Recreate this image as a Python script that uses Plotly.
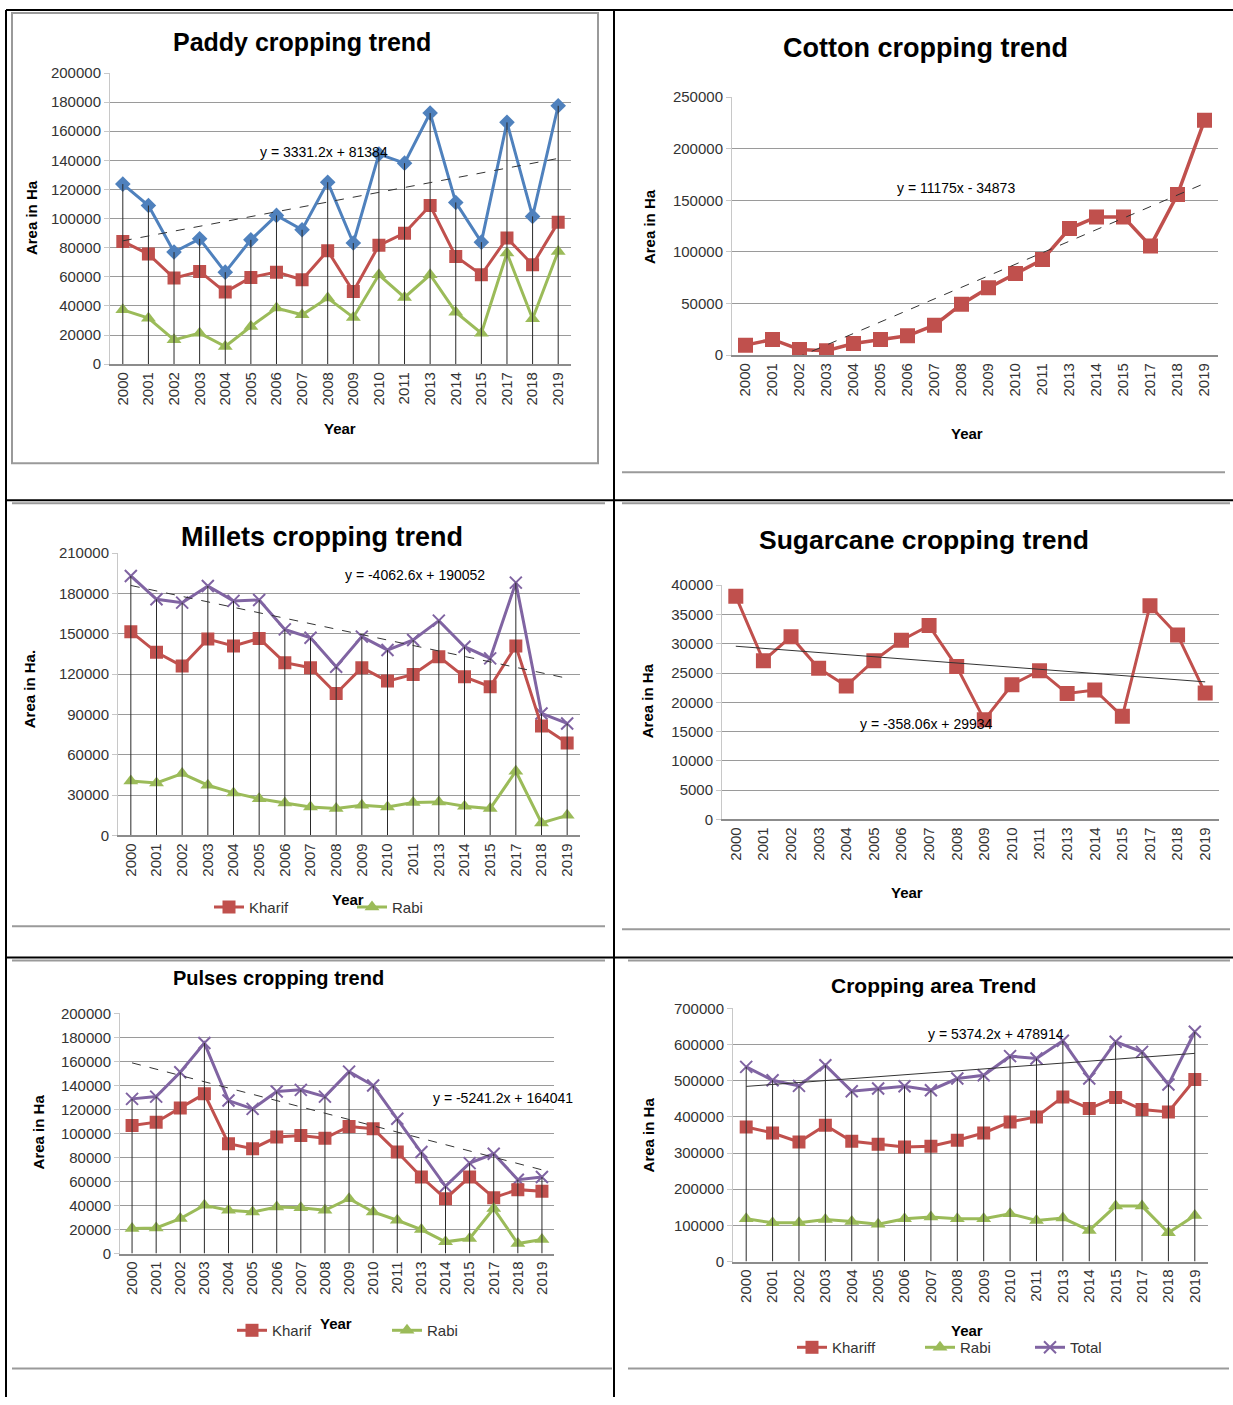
import plotly.graph_objects as go

W, H = 1233, 1405

YEARS = ['2000', '2001', '2002', '2003', '2004', '2005', '2006', '2007', '2008',
         '2009', '2010', '2011', '2013', '2014', '2015', '2017', '2018', '2019']

PADDY_TOTAL = [123700, 109000, 77000, 86100, 63200, 85400, 102200, 92300, 125000,
               83200, 144300, 138100, 172500, 111100, 83800, 166100, 101500, 177500]
PADDY_KHARIF = [84300, 75600, 59100, 63700, 49500, 59600, 63200, 58000, 77900,
                49900, 81600, 90000, 109000, 74000, 61400, 86600, 68300, 97400]
PADDY_RABI = [37300, 31600, 16700, 21300, 12100, 25900, 38500, 33900, 45400,
              32100, 61400, 45800, 61400, 35700, 21300, 76300, 31200, 77400]
PADDY_TREND = (3331.2, 81384)

COTTON = [9700, 15200, 5500, 4200, 11300, 15200, 18700, 29000, 49400,
          65200, 79000, 92600, 122600, 133900, 133900, 105800, 155500, 227400]
COTTON_TREND = (11175, -34873)

MILLETS_TOTAL = [193100, 175700, 173200, 185600, 174500, 175200, 153300, 147100, 125500,
                 147900, 137900, 145400, 159800, 140400, 131700, 188100, 90700, 83300]
MILLETS_KHARIF = [151600, 136200, 126000, 146100, 140900, 146600, 128500, 124800, 105600,
                  124800, 114800, 119800, 133000, 118000, 110600, 140900, 81300, 68800]
MILLETS_RABI = [40500, 39000, 46000, 37300, 31600, 27300, 24100, 21100, 19900,
                22400, 21100, 24400, 24900, 21600, 19900, 47700, 9200, 14900]
MILLETS_TREND = (-4062.6, 190052)

SUGARCANE = [38100, 27100, 31200, 25800, 22800, 27100, 30600, 33100, 26100,
             17000, 23000, 25400, 21500, 22100, 17600, 36500, 31500, 21600]
SUGARCANE_TREND = (-358.06, 29934)

PULSES_TOTAL = [128800, 130700, 151000, 175300, 127400, 120500, 134900, 136300, 130700,
                151500, 139900, 112200, 84500, 56000, 75300, 83100, 61500, 63700]
PULSES_KHARIF = [106600, 109400, 121300, 133000, 91400, 87300, 97000, 98300, 96100,
                 105800, 103900, 84500, 63700, 45700, 63700, 46500, 53200, 51800]
PULSES_RABI = [20800, 21300, 29100, 40200, 36000, 34600, 38800, 38200, 36000,
               45700, 34600, 27700, 19900, 9700, 12500, 37400, 8300, 11600]
PULSES_TREND = (-5241.2, 164041)

AREA_TOTAL = [538400, 501400, 485700, 543000, 471000, 478400, 484800, 473700, 506100,
              515300, 567900, 561500, 610400, 506100, 607700, 579900, 489400, 635400]
AREA_KHARIF = [372200, 355500, 330600, 376800, 332500, 324100, 316800, 318600, 335200,
               355500, 386000, 399900, 455300, 423000, 453400, 420200, 413700, 503300]
AREA_RABI = [118200, 107100, 107100, 116400, 110800, 103400, 118200, 122800, 118200,
             118200, 132100, 113600, 120100, 85900, 153300, 153300, 79400, 127400]
AREA_TREND = (5374.2, 478914)

BLUE = '#4F81BD'
RED = '#C0504D'
GREEN = '#9BBB59'
PURPLE = '#8064A2'
FONT = 'Liberation Sans, Arial, sans-serif'

IDX = list(range(len(YEARS)))

# the page comes out a little squeezed vertically; positions below are in
# picture pixels and get mapped back to figure pixels here
SQUEEZE = 0.9875
TOP = 9.0


def fx(p):
    return p / W


def fy(p):
    d = (p - TOP) / SQUEEZE
    return min(1.0, max(0.0, 1 - d / H))


def axis_ids(n):
    return ('x' if n == 1 else f'x{n}'), ('y' if n == 1 else f'y{n}')


def add_axes(fig, n, box, ymax, dtick):
    x0, y0, x1, y1 = box
    xid, yid = axis_ids(n)
    fig.update_layout({
        'xaxis' + xid[1:]: dict(
            domain=[fx(x0), fx(x1)], anchor=yid, range=[-0.5, len(YEARS) - 0.5],
            tickvals=IDX, ticktext=YEARS, tickangle=-90, showgrid=False,
            zeroline=False, showline=True, linecolor='#8c8c8c', linewidth=2,
            ticks='', tickfont=dict(family=FONT, size=15, color='#333'),
        ),
        'yaxis' + yid[1:]: dict(
            domain=[fy(y1), fy(y0)], anchor=xid, range=[0, ymax], dtick=dtick,
            tickformat='d', showgrid=True, gridcolor='#9a9a9a', gridwidth=1,
            zeroline=False, showline=True, linecolor='#c8c8c8', linewidth=1,
            ticks='outside', ticklen=5, tickcolor='#c8c8c8',
            tickfont=dict(family=FONT, size=15, color='#333'),
        ),
    })


def add_series(fig, n, values, color, symbol, size, name=None, legend=None, width=3):
    xid, yid = axis_ids(n)
    if symbol == 'x-thin':
        marker = dict(symbol=symbol, size=size, color=color, line=dict(color=color, width=2))
    else:
        marker = dict(symbol=symbol, size=size, color=color, line=dict(color=color, width=0))
    fig.add_trace(go.Scatter(
        x=IDX, y=values, mode='lines+markers', name=name,
        line=dict(color=color, width=width), marker=marker,
        showlegend=legend is not None, legend=legend or 'legend',
        xaxis=xid, yaxis=yid,
    ))


def add_drop_lines(fig, n, totals):
    xid, yid = axis_ids(n)
    xs, ys = [], []
    for i, v in zip(IDX, totals):
        xs += [i, i, None]
        ys += [v, 0, None]
    fig.add_trace(go.Scatter(x=xs, y=ys, mode='lines', line=dict(color='#2a2a2a', width=1),
                             showlegend=False, hoverinfo='skip', xaxis=xid, yaxis=yid))


def add_trend(fig, n, coeffs, dash='dash'):
    xid, yid = axis_ids(n)
    slope, intercept = coeffs
    ks = [1, len(YEARS)]
    fig.add_trace(go.Scatter(x=[IDX[0], IDX[-1]], y=[slope * k + intercept for k in ks],
                             mode='lines', line=dict(color='#333', width=1, dash=dash),
                             showlegend=False, hoverinfo='skip', xaxis=xid, yaxis=yid))


def equation(coeffs):
    slope, intercept = coeffs
    sign = '+' if intercept >= 0 else '-'
    return f'y = {slope:g}x {sign} {abs(intercept):g}'


def text(fig, x, y, s, size=15, bold=False, angle=0):
    fig.add_annotation(x=fx(x), y=fy(y), xref='paper', yref='paper', showarrow=False,
                       text=f'<b>{s}</b>' if bold else s, textangle=angle,
                       font=dict(family=FONT, size=size, color='#000'),
                       xanchor='center', yanchor='middle')


fig = go.Figure()

# axes: pixel boxes of each plot area
add_axes(fig, 1, (110, 73, 571, 364), 200000, 20000)
add_axes(fig, 2, (732, 97, 1218, 355), 250000, 50000)
add_axes(fig, 3, (118, 553, 580, 835), 210000, 30000)
add_axes(fig, 4, (722, 585, 1219, 819), 40000, 5000)
add_axes(fig, 5, (120, 1013, 554, 1253), 200000, 20000)
add_axes(fig, 6, (733, 1008, 1208, 1261), 700000, 100000)

# Paddy
add_series(fig, 1, PADDY_RABI, GREEN, 'triangle-up', 13)
add_series(fig, 1, PADDY_KHARIF, RED, 'square', 13)
add_series(fig, 1, PADDY_TOTAL, BLUE, 'diamond', 12)
add_drop_lines(fig, 1, PADDY_TOTAL)
add_trend(fig, 1, PADDY_TREND)

# Cotton
add_series(fig, 2, COTTON, RED, 'square', 15, width=3.5)
add_trend(fig, 2, COTTON_TREND)

# Millets
add_series(fig, 3, MILLETS_TOTAL, PURPLE, 'x-thin', 12)
add_series(fig, 3, MILLETS_KHARIF, RED, 'square', 13, name='Kharif', legend='legend2')
add_series(fig, 3, MILLETS_RABI, GREEN, 'triangle-up', 13, name='Rabi', legend='legend3')
add_drop_lines(fig, 3, MILLETS_TOTAL)
add_trend(fig, 3, MILLETS_TREND)

# Sugarcane
add_series(fig, 4, SUGARCANE, RED, 'square', 15, width=3)
add_trend(fig, 4, SUGARCANE_TREND, dash='solid')

# Pulses
add_series(fig, 5, PULSES_TOTAL, PURPLE, 'x-thin', 12)
add_series(fig, 5, PULSES_KHARIF, RED, 'square', 13, name='Kharif', legend='legend4')
add_series(fig, 5, PULSES_RABI, GREEN, 'triangle-up', 13, name='Rabi', legend='legend5')
add_drop_lines(fig, 5, PULSES_TOTAL)
add_trend(fig, 5, PULSES_TREND)

# Cropping area
add_series(fig, 6, AREA_KHARIF, RED, 'square', 13, name='Khariff', legend='legend6')
add_series(fig, 6, AREA_RABI, GREEN, 'triangle-up', 13, name='Rabi', legend='legend7')
add_series(fig, 6, AREA_TOTAL, PURPLE, 'x-thin', 12, name='Total', legend='legend8')
add_drop_lines(fig, 6, AREA_TOTAL)
add_trend(fig, 6, AREA_TREND, dash='solid')

# titles
text(fig, 302, 42, 'Paddy cropping trend', 25, True)
text(fig, 925, 48, 'Cotton cropping trend', 27, True)
text(fig, 322, 537, 'Millets cropping trend', 27, True)
text(fig, 924, 540, 'Sugarcane cropping trend', 26.5, True)
text(fig, 278, 978, 'Pulses cropping trend', 20, True)
text(fig, 933, 985, 'Cropping area Trend', 21, True)

# trend equations
text(fig, 324, 152, equation(PADDY_TREND), 14)
text(fig, 956, 188, equation(COTTON_TREND), 14)
text(fig, 415, 575, equation(MILLETS_TREND), 14)
text(fig, 926, 724, equation(SUGARCANE_TREND), 14)
text(fig, 503, 1098, equation(PULSES_TREND), 14)
text(fig, 996, 1034, equation(AREA_TREND), 14)

# axis titles
for x, y, s in [(31, 218, 'Area in Ha'), (649, 226, 'Area in Ha'), (29, 689, 'Area in Ha.'),
                (647, 701, 'Area in Ha'), (38, 1132, 'Area in Ha'), (648, 1135, 'Area in Ha')]:
    text(fig, x, y, s, 15, True, -90)
for x, y in [(340, 428), (967, 433), (348, 899), (907, 892), (336, 1323), (967, 1330)]:
    text(fig, x, y, 'Year', 15, True)

# legends, one per entry so each sits where the original puts it
legend_pos = {
    'legend2': (209, 907), 'legend3': (352, 907),
    'legend4': (232, 1330), 'legend5': (387, 1330),
    'legend6': (792, 1347), 'legend7': (920, 1347), 'legend8': (1030, 1347),
}
for key, (x, y) in legend_pos.items():
    fig.update_layout({key: dict(x=fx(x), y=fy(y), xanchor='left', yanchor='middle',
                                 orientation='h', bgcolor='rgba(0,0,0,0)', borderwidth=0,
                                 itemwidth=30, font=dict(family=FONT, size=15, color='#333'))})

# table borders and picture frames
shapes = []
black = dict(color='#000', width=2)
grey = dict(color='#9a9a9a', width=2)
for x0, y0, x1, y1 in [(6, 10, 1233, 10), (6, 500, 1233, 500), (6, 957, 1233, 957),
                       (6, 10, 6, 1405), (614, 10, 614, 1405)]:
    shapes.append(dict(type='line', xref='paper', yref='paper', x0=fx(x0), y0=fy(y0),
                       x1=fx(x1), y1=fy(y1), line=black))
shapes.append(dict(type='rect', xref='paper', yref='paper', x0=fx(12), y0=fy(13),
                   x1=fx(598), y1=fy(463), line=grey))
for x0, y0, x1, y1 in [(622, 472, 1225, 472), (12, 926, 605, 926), (622, 929, 1230, 929),
                       (12, 1368, 612, 1368), (628, 1368, 1229, 1368),
                       (12, 503, 605, 503), (622, 503, 1230, 503),
                       (12, 960, 605, 960), (628, 960, 1230, 960)]:
    shapes.append(dict(type='line', xref='paper', yref='paper', x0=fx(x0), y0=fy(y0),
                       x1=fx(x1), y1=fy(y1), line=grey))

fig.update_layout(
    width=W, height=H, autosize=False,
    margin=dict(l=0, r=0, t=0, b=0),
    paper_bgcolor='white', plot_bgcolor='white',
    font=dict(family=FONT),
    shapes=shapes,
    showlegend=True,
    legend=dict(visible=False),
)

# the page is exactly the window size, so drop the default body margin
fig.write_html("out.html", config={'displayModeBar': False},
               post_script="document.body.style.margin='0';document.body.style.overflow='hidden';")
